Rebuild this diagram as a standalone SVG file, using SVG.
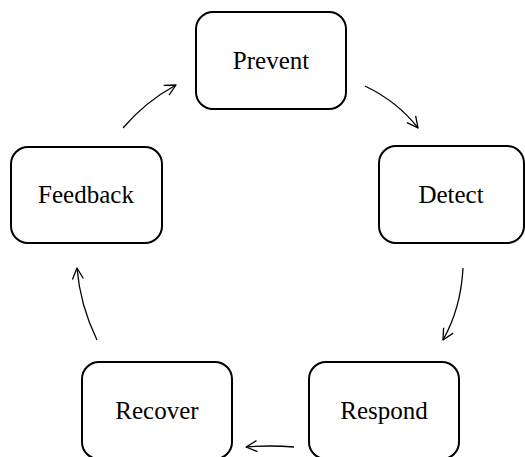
<svg xmlns="http://www.w3.org/2000/svg" width="525" height="457" viewBox="0 0 525 457">
<style>
.box{fill:#fff;stroke:#000;stroke-width:2}
.lbl{font-family:"Liberation Serif","Times New Roman",serif;font-size:25px;fill:#000;text-anchor:middle;dominant-baseline:central}
.edge{fill:none;stroke:#000;stroke-width:1.3}
</style>
<defs>
<marker id="ah" markerUnits="userSpaceOnUse" markerWidth="24" markerHeight="24" viewBox="-12 -12 24 24" refX="0" refY="0" orient="auto" overflow="visible">
<path d="M-11,-5.5 L0,0 L-11,5.5" fill="none" stroke="#000" stroke-width="1.3" stroke-linejoin="round"/>
</marker>
</defs>
<g id="connectors">
<path class="edge" d="M365,86 Q398,102 418,128" marker-end="url(#ah)"/>
<path class="edge" d="M463,268 Q461,308 443,340" marker-end="url(#ah)"/>
<path class="edge" d="M294,447 Q270,445 246,447" marker-end="url(#ah)"/>
<path class="edge" d="M97,340 Q80,305 77,268" marker-end="url(#ah)"/>
<path class="edge" d="M123,128 Q145,102 176,85" marker-end="url(#ah)"/>
</g>
<g id="prevent">
<rect class="box" x="196" y="12" width="150" height="97" rx="17"/>
<text class="lbl" x="271" y="60">Prevent</text>
</g>
<g id="detect">
<rect class="box" x="379" y="146" width="145" height="97" rx="17"/>
<text class="lbl" x="451" y="194">Detect</text>
</g>
<g id="respond">
<rect class="box" x="309" y="362" width="150" height="97" rx="17"/>
<text class="lbl" x="384" y="410">Respond</text>
</g>
<g id="recover">
<rect class="box" x="82" y="362" width="150" height="97" rx="17"/>
<text class="lbl" x="157" y="410">Recover</text>
</g>
<g id="feedback">
<rect class="box" x="11" y="147" width="151" height="96" rx="17"/>
<text class="lbl" x="86" y="194">Feedback</text>
</g>
</svg>
